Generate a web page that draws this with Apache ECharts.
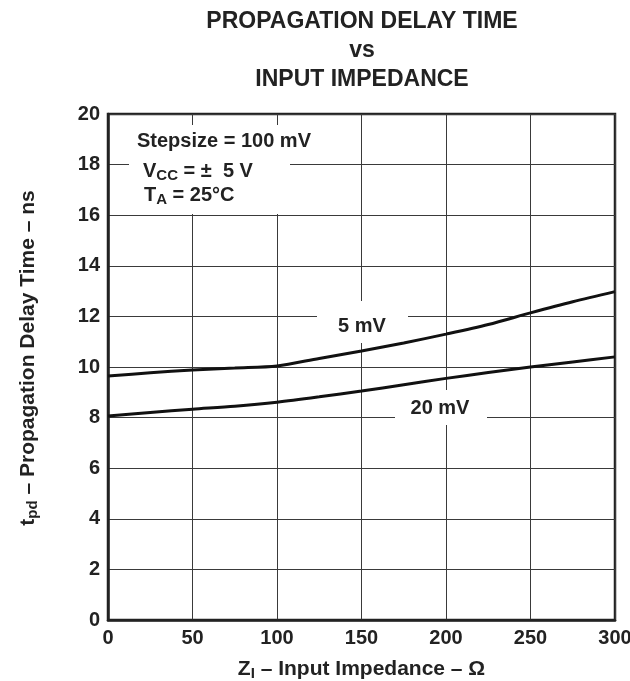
<!DOCTYPE html>
<html>
<head>
<meta charset="utf-8">
<script src="https://cdn.jsdelivr.net/npm/echarts@6/dist/echarts.min.js"></script>
<style>
  html, body { margin: 0; padding: 0; background: #fff; }
  #chart { width: 630px; height: 681px; }
</style>
</head>
<body>
<div id="chart"></div>
<script>
// input impedance (ohm) and propagation delay (ns)
var impedance = [0, 25, 50, 75, 100, 125, 150, 175, 200, 225, 250, 275, 300];
var delay5mV = [9.64, 9.77, 9.88, 9.96, 10.04, 10.34, 10.63, 10.95, 11.3, 11.68, 12.14, 12.58, 12.98];
var delay20mV = [8.06, 8.2, 8.33, 8.45, 8.61, 8.82, 9.05, 9.3, 9.55, 9.78, 10.0, 10.2, 10.4];
var xTicks = [0, 50, 100, 150, 200, 250, 300];
var yTicks = [0, 2, 4, 6, 8, 10, 12, 14, 16, 18, 20];

var FONT = 'Liberation Sans, Arial, sans-serif';
var INK = '#222';
var myChart = echarts.init(document.getElementById('chart'));

function pairs(ys) {
  return impedance.map(function (x, i) { return [x, ys[i]]; });
}

function nameRich() {
  return {
    b: { fontFamily: FONT, fontSize: 21, fontWeight: 'bold', color: INK },
    s: { fontFamily: FONT, fontSize: 15, fontWeight: 'bold', color: INK, padding: [9, 0, 0, 0] }
  };
}

var annoRich = {
  b: { font: 'bold 20px ' + FONT, fill: INK },
  s: { font: 'bold 15px ' + FONT, fill: INK, padding: [9, 0, 0, 0] }
};

var option = {
  backgroundColor: '#fff',
  animation: false,
  title: {
    text: 'PROPAGATION DELAY TIME\nvs\nINPUT IMPEDANCE',
    left: 362,
    top: 7,
    padding: 0,
    textAlign: 'center',
    textStyle: {
      fontFamily: FONT,
      fontSize: 23,
      fontWeight: 'bold',
      color: INK,
      lineHeight: 29
    }
  },
  grid: {
    left: 108,
    right: 15,
    top: 114,
    bottom: 61,
    outerBoundsMode: 'none',
    show: true,
    borderColor: INK,
    borderWidth: 2.5
  },
  xAxis: {
    type: 'value',
    min: 0,
    max: 300,
    interval: 50,
    name: '{b|Z}{s|I}{b| – Input Impedance – Ω}',
    nameLocation: 'middle',
    nameGap: 37,
    nameTextStyle: { fontFamily: FONT, fontWeight: 'bold', rich: nameRich() },
    axisLine: { show: true, onZero: false, lineStyle: { color: INK, width: 2.5 } },
    axisTick: { show: false },
    axisLabel: {
      margin: 8,
      fontFamily: FONT,
      fontSize: 20,
      fontWeight: 'bold',
      color: INK,
      formatter: function (v) { return xTicks.indexOf(v) >= 0 ? String(v) : ''; }
    },
    splitLine: { show: true, lineStyle: { color: '#3a3a3a', width: 1 } }
  },
  yAxis: {
    type: 'value',
    min: 0,
    max: 20,
    interval: 2,
    name: '{b|t}{s|pd}{b| – Propagation Delay Time – ns}',
    nameLocation: 'middle',
    nameGap: 68,
    nameTextStyle: { fontFamily: FONT, fontWeight: 'bold', rich: nameRich(), padding: [0, 0, 0, 18] },
    axisLine: { show: true, onZero: false, lineStyle: { color: INK, width: 2.5 } },
    axisTick: { show: false },
    axisLabel: {
      margin: 8,
      fontFamily: FONT,
      fontSize: 20,
      fontWeight: 'bold',
      color: INK,
      formatter: function (v) { return yTicks.indexOf(v) >= 0 ? String(v) : ''; }
    },
    splitLine: { show: true, lineStyle: { color: '#3a3a3a', width: 1 } }
  },
  series: [
    {
      name: '5 mV',
      type: 'line',
      z: 5,
      data: pairs(delay5mV),
      smooth: 0.3,
      showSymbol: false,
      lineStyle: { color: '#111', width: 3 }
    },
    {
      name: '20 mV',
      type: 'line',
      z: 5,
      data: pairs(delay20mV),
      smooth: 0.3,
      showSymbol: false,
      lineStyle: { color: '#111', width: 3 }
    }
  ],
  graphic: [
    // white box behind the conditions text (hides grid lines, sits under the curves)
    { type: 'rect', shape: { x: 129, y: 125, width: 161, height: 89 }, style: { fill: '#fff' }, z: 1 },
    {
      type: 'text', x: 137, y: 141, z: 11,
      style: { text: 'Stepsize = 100 mV', font: 'bold 20px ' + FONT, fill: INK, textVerticalAlign: 'middle' }
    },
    {
      type: 'text', x: 143, y: 171, z: 11,
      style: { text: '{b|V}{s|CC}{b| = ±  5 V}', textVerticalAlign: 'middle', rich: annoRich }
    },
    {
      type: 'text', x: 144, y: 195, z: 11,
      style: { text: '{b|T}{s|A}{b| = 25°C}', textVerticalAlign: 'middle', rich: annoRich }
    },
    // curve labels
    { type: 'rect', shape: { x: 317, y: 301, width: 91, height: 42 }, style: { fill: '#fff' }, z: 1 },
    {
      type: 'text', x: 362, y: 326, z: 11,
      style: { text: '5 mV', font: 'bold 20px ' + FONT, fill: INK, textAlign: 'center', textVerticalAlign: 'middle' }
    },
    { type: 'rect', shape: { x: 395, y: 390, width: 92, height: 35 }, style: { fill: '#fff' }, z: 1 },
    {
      type: 'text', x: 440, y: 408, z: 11,
      style: { text: '20 mV', font: 'bold 20px ' + FONT, fill: INK, textAlign: 'center', textVerticalAlign: 'middle' }
    }
  ]
};

myChart.setOption(option);
</script>
</body>
</html>
